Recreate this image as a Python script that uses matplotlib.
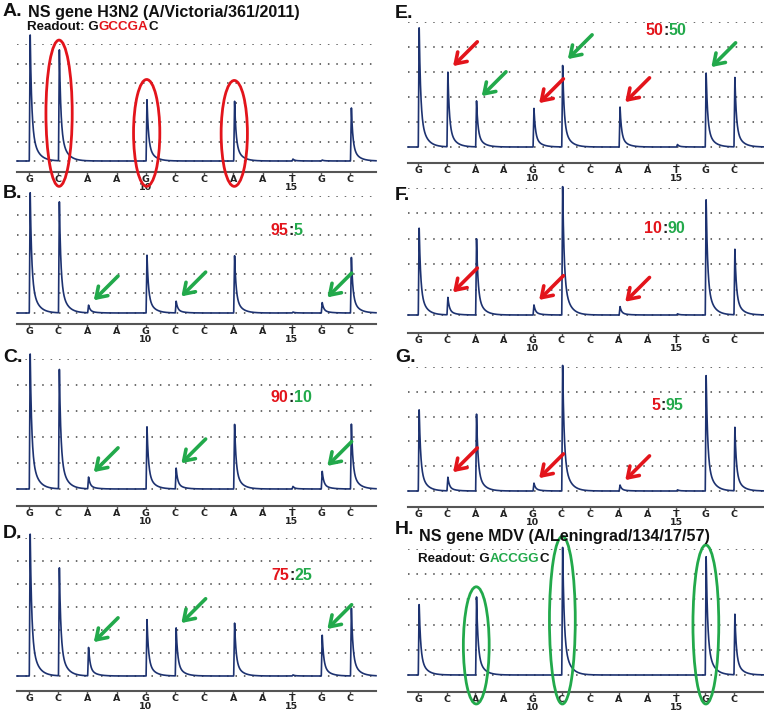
import numpy as np
import matplotlib
matplotlib.use("Agg")
import matplotlib.pyplot as plt
from matplotlib.patches import Ellipse

W, H = 764, 720
RED = "#e3141b"
GREEN = "#22a94b"
TRACE = "#1d3270"

# dispensation order (positions 6..17)
dispensation = ["G", "C", "A", "A", "G", "C", "C", "A", "A", "T", "G", "C"]
positions = list(range(6, 18))
numbered = [10, 15]

# peak heights per dispensation (grid units)
peaks_a = [6.56, 5.70, 0.00, 0.00, 3.18, 0.00, 0.00, 3.13, 0.00, 0.10, 0.05, 2.77]
peaks_b = [6.26, 5.70, 0.40, 0.00, 3.00, 0.60, 0.00, 3.00, 0.00, 0.05, 0.55, 2.90]
peaks_c = [5.27, 4.60, 0.46, 0.00, 2.42, 0.80, 0.00, 2.54, 0.00, 0.10, 0.70, 2.54]
peaks_d = [6.26, 4.70, 1.26, 0.00, 2.48, 2.09, 0.00, 2.35, 0.00, 0.05, 1.83, 3.00]
peaks_e = [4.88, 3.04, 1.84, 0.00, 1.56, 3.32, 0.00, 1.60, 0.00, 0.10, 3.00, 2.84]
peaks_f = [3.50, 0.70, 3.00, 0.00, 0.40, 5.15, 0.00, 0.33, 0.00, 0.05, 4.60, 2.64]
peaks_g = [3.35, 0.56, 3.10, 0.00, 0.32, 5.16, 0.00, 0.24, 0.00, 0.05, 4.72, 2.62]
peaks_h = [2.86, 0.00, 3.10, 0.00, 0.00, 5.16, 0.00, 0.00, 0.00, 0.00, 4.76, 2.46]

ratios_left = {"B": "95", "C": "90", "D": "75", "E": "50", "F": "10", "G": "5"}
ratios_right = {"B": "5", "C": "10", "D": "25", "E": "50", "F": "90", "G": "95"}

# which dispensations get arrows / ellipses
mut_arrows = [2, 5, 10]      # A8, C11, G16 (green)
wt_arrows = [1, 4, 7]        # C7, G10, A13 (red)

fig = plt.figure(figsize=(W / 100, H / 100), dpi=100)
fig.patch.set_facecolor("white")
renderer = fig.canvas.get_renderer()

ov = fig.add_axes([0, 0, 1, 1])
ov.set_xlim(0, W)
ov.set_ylim(H, 0)
ov.axis("off")
ov.set_zorder(10)
ov.patch.set_alpha(0)


def trace(x, heights):
    y = np.zeros_like(x)
    for p, h in zip(positions, heights):
        d = x - (p + 0.04)
        y += np.where(d >= 0, h * (0.72 * np.exp(-d / 0.05) + 0.28 * np.exp(-d / 0.2)), 0)
        y += np.where((d > -0.03) & (d < 0), h * (1 + d / 0.03), 0)
    return y


def make_panel(col, baseline, spacing, ngrid, axis_px, heights):
    if col == 0:
        x0, x1, t0, step = 17, 376, 29, 29.2
    else:
        x0, x1, t0, step = 408, 764, 418, 28.7
    top_px = baseline - spacing * (ngrid - 1)
    ax = fig.add_axes([x0 / W, 1 - axis_px / H, (x1 - x0) / W, (axis_px - top_px) / H])
    ax.patch.set_alpha(0)
    ax.set_xlim(6 - (t0 - x0) / step, 6 + (x1 - t0) / step)
    ax.set_ylim(-(axis_px - baseline) / spacing, ngrid - 1)
    for k in range(ngrid):
        ax.axhline(k, color="#444444", lw=1.1, ls=(0, (1, 4.5)), zorder=1)
    x = np.linspace(ax.get_xlim()[0], ax.get_xlim()[1], 4000)
    ax.plot(x, trace(x, heights), color=TRACE, lw=1.2, clip_on=False, zorder=3)
    for s in ["top", "right", "left"]:
        ax.spines[s].set_visible(False)
    ax.spines["bottom"].set_color("#555555")
    ax.spines["bottom"].set_linewidth(1.5)
    ax.set_yticks([])
    ax.set_xticks(positions)
    ax.set_xticklabels(dispensation, fontsize=6.8, fontweight="bold", color="#222222",
                       family="DejaVu Sans")
    ax.tick_params(axis="x", length=2, width=1, color="#555555", pad=0)
    for n in numbered:
        ax.annotate(str(n), xy=(n, 0), xycoords=("data", "axes fraction"),
                    xytext=(0, -11.4), textcoords="offset points", ha="center", va="center",
                    fontsize=6.8, fontweight="bold", color="#222222", annotation_clip=False)
    return ax


def arrows(ax, heights, idxs, color):
    for i in idxs:
        ax.annotate("", xy=(positions[i] + 0.05, heights[i]), xytext=(21, 21),
                    textcoords="offset points", annotation_clip=False,
                    arrowprops=dict(arrowstyle="->,head_length=0.6,head_width=0.4",
                                    lw=2.6, color=color, shrinkA=0, shrinkB=5,
                                    mutation_scale=12))


def ellipses(ax, heights, idxs, color, pad, cap, bottom):
    for i in idxs:
        top = min(heights[i] + pad, cap)
        ax.add_patch(Ellipse((positions[i] + 0.03, (top + bottom) / 2), 0.9, top - bottom,
                             fill=False, edgecolor=color, lw=2.0, clip_on=False, zorder=5))


def bold_text(x, y, s, size, color, ha="left"):
    return ov.text(x, y, s, ha=ha, va="baseline", fontsize=size, fontweight="bold",
                   color=color, family="Liberation Sans")


def chained(x, y, parts, size):
    cx = x
    for s, c in parts:
        t = bold_text(cx, y, s, size, c)
        cx += t.get_window_extent(renderer).width


def ratio(x, y, key):
    colon = bold_text(x, y, ":", 11.5, "#222222", ha="center")
    w = colon.get_window_extent(renderer).width
    bold_text(x - w / 2, y, ratios_left[key], 11.5, RED, ha="right")
    bold_text(x + w / 2, y, ratios_right[key], 11.5, GREEN, ha="left")


def label(x, y, s):
    ov.text(x, y, s, ha="left", va="center", fontsize=14, fontweight="bold",
            color="#111111", family="Liberation Sans")


# ---- left column ----
ax_a = make_panel(0, 161, 19.5, 7, 172, peaks_a)
ellipses(ax_a, peaks_a, wt_arrows, RED, 1.0, 6.2, -1.3)
ax_b = make_panel(0, 313, 19.5, 7, 324, peaks_b)
arrows(ax_b, peaks_b, mut_arrows, GREEN)
ax_c = make_panel(0, 489, 26, 6, 506, peaks_c)
arrows(ax_c, peaks_c, mut_arrows, GREEN)
ax_d = make_panel(0, 676, 23, 7, 691, peaks_d)
arrows(ax_d, peaks_d, mut_arrows, GREEN)

# ---- right column ----
ax_e = make_panel(1, 147, 25, 6, 163, peaks_e)
arrows(ax_e, peaks_e, wt_arrows, RED)
arrows(ax_e, peaks_e, mut_arrows, GREEN)
ax_f = make_panel(1, 315, 25.4, 6, 333, peaks_f)
arrows(ax_f, peaks_f, wt_arrows, RED)
ax_g = make_panel(1, 491, 24.8, 6, 507, peaks_g)
arrows(ax_g, peaks_g, wt_arrows, RED)
ax_h = make_panel(1, 675, 25.2, 6, 692, peaks_h)
ellipses(ax_h, peaks_h, mut_arrows, GREEN, 0.4, 5.5, -1.15)

# ---- labels and text ----
label(3, 12, "A.")
bold_text(28, 17.5, "NS gene H3N2 (A/Victoria/361/2011)", 11.6, "#111111")
chained(27, 30, [("Readout: G", "#111111"), ("GCCGA", RED), ("C", "#111111")], 9.6)
label(3, 193, "B.")
label(3, 357, "C.")
label(3, 533, "D.")
label(395, 13, "E.")
label(395, 195, "F.")
label(395, 358, "G.")
label(395, 530, "H.")
bold_text(419, 541, "NS gene MDV (A/Leningrad/134/17/57)", 11.6, "#111111")
chained(418, 562, [("Readout: G", "#111111"), ("ACCGG", GREEN), ("C", "#111111")], 9.6)

ratio(291, 235, "B")
ratio(291, 402, "C")
ratio(292, 580, "D")
ratio(666, 35, "E")
ratio(665, 233, "F")
ratio(663, 410, "G")

fig.savefig("out.png", dpi=100, facecolor="white")
